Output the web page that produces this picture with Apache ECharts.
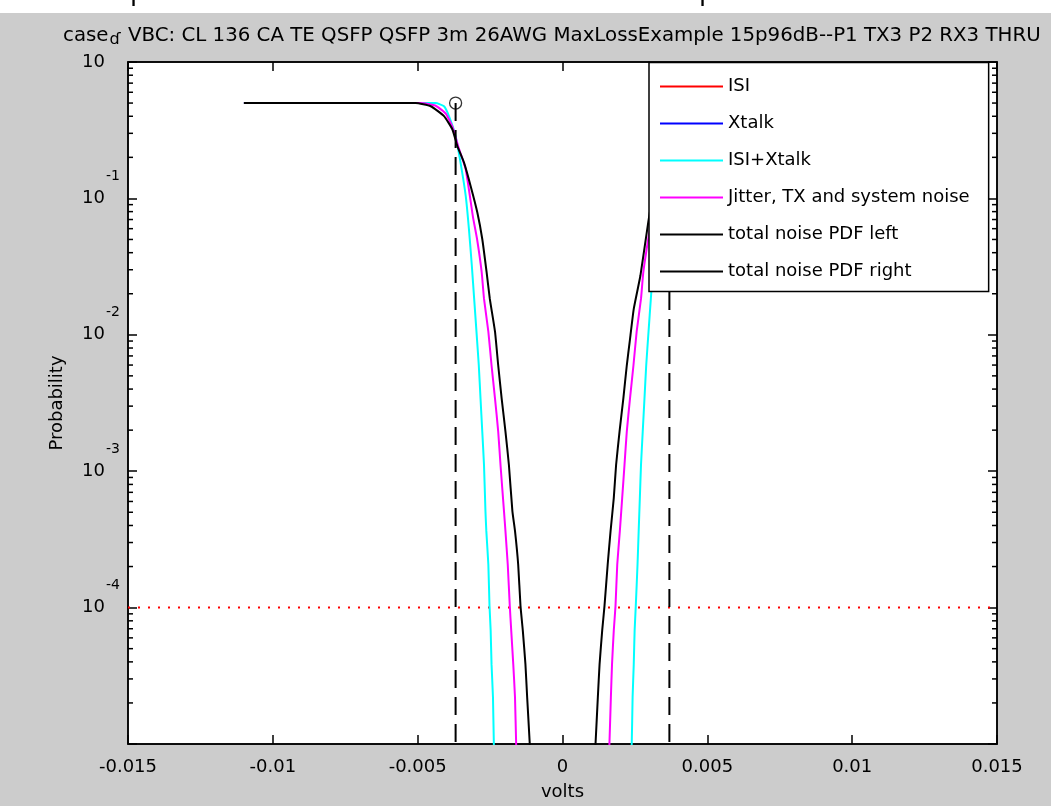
<!DOCTYPE html>
<html>
<head>
<meta charset="utf-8">
<script src="https://cdn.jsdelivr.net/npm/echarts@6/dist/echarts.min.js"></script>
<style>
html,body{margin:0;padding:0;background:#cccccc;}
#chart{width:1051px;height:806px;}
</style>
</head>
<body>
<div id="chart"></div>
<script>
// ---- data (volts, probability) ----
const seriesNames = ['ISI', 'Xtalk', 'ISI+Xtalk', 'Jitter, TX and system noise', 'total noise PDF left', 'total noise PDF right'];
const seriesColors = ['#ff0000', '#0000ff', '#00ffff', '#ff00ff', '#000000', '#000000'];

const isiData = [];     // not visible in the reference
const xtalkData = [];   // not visible in the reference

const isiXtalkLeft = [
  [-0.01100,0.5],[-0.00438,0.5],[-0.00409,0.474],[-0.00392,0.401],[-0.00369,0.286],[-0.00352,0.183],
  [-0.00334,0.104],[-0.00323,0.0596],[-0.00313,0.0321],[-0.00305,0.0184],[-0.00297,0.01054],[-0.00289,0.00598],
  [-0.00283,0.00341],[-0.00277,0.00196],[-0.00271,0.00111],[-0.00266,0.00051],[-0.00263,0.000365],
  [-0.00256,0.000207],[-0.00252,0.000103],[-0.00248,0.0000678],[-0.00245,0.0000385],[-0.00240,0.000022],
  [-0.00237,0.00001],[-0.00234,0.000007]
];
const isiXtalkRight = [
  [0.00234,0.000007],[0.00239,0.00001],[0.00242,0.000022],[0.00246,0.0000385],[0.00249,0.0000678],
  [0.00253,0.000103],[0.00259,0.000207],[0.00263,0.000365],[0.00267,0.000635],[0.00271,0.00111],
  [0.00277,0.00196],[0.00283,0.00341],[0.00289,0.00598],[0.00297,0.01054],[0.00305,0.0184],[0.00313,0.0321],
  [0.00323,0.0596],[0.00334,0.104],[0.00352,0.183],[0.00369,0.286],[0.00392,0.401],[0.00409,0.474],
  [0.00438,0.5],[0.01100,0.5]
];
const jitterLeft = [
  [-0.01100,0.5],[-0.00490,0.5],[-0.00438,0.478],[-0.00403,0.419],[-0.00379,0.331],[-0.00359,0.237],
  [-0.00334,0.163],[-0.00309,0.0729],[-0.00295,0.0504],[-0.00279,0.0288],[-0.00271,0.0184],[-0.00256,0.01054],
  [-0.00245,0.00598],[-0.00233,0.00341],[-0.00222,0.00196],[-0.00214,0.00111],[-0.00202,0.00051],
  [-0.00197,0.000365],[-0.00189,0.000207],[-0.00182,0.000103],[-0.00177,0.0000678],[-0.00170,0.0000385],
  [-0.00164,0.000022],[-0.00160,0.00001],[-0.00157,0.000007]
];
const jitterRight = [
  [0.00159,0.000007],[0.00162,0.00001],[0.00167,0.000022],[0.00171,0.0000385],[0.00177,0.0000678],
  [0.00183,0.000103],[0.00189,0.000207],[0.00198,0.000365],[0.00206,0.000635],[0.00214,0.00111],
  [0.00222,0.00196],[0.00233,0.00341],[0.00245,0.00598],[0.00256,0.01054],[0.00271,0.0184],[0.00279,0.0288],
  [0.00296,0.0504],[0.00309,0.0729],[0.00334,0.163],[0.00359,0.237],[0.00379,0.331],[0.00403,0.419],
  [0.00438,0.478],[0.00490,0.5],[0.01100,0.5]
];
const totalLeft = [
  [-0.01100,0.5],[-0.00507,0.5],[-0.00455,0.474],[-0.00409,0.401],[-0.00380,0.320],[-0.00363,0.242],
  [-0.00340,0.183],[-0.00317,0.123],[-0.00294,0.0789],[-0.00277,0.0504],[-0.00262,0.0288],[-0.00251,0.0184],
  [-0.00233,0.01054],[-0.00222,0.00598],[-0.00210,0.00341],[-0.00197,0.00196],[-0.00185,0.00111],
  [-0.00173,0.00051],[-0.00164,0.000365],[-0.00153,0.000207],[-0.00145,0.000103],[-0.00137,0.0000678],
  [-0.00128,0.0000385],[-0.00122,0.000022],[-0.00113,0.00001],[-0.00110,0.000007]
];
const totalRight = [
  [0.00110,0.000007],[0.00114,0.00001],[0.00122,0.000022],[0.00128,0.0000385],[0.00137,0.0000678],
  [0.00145,0.000103],[0.00156,0.000207],[0.00166,0.000365],[0.00177,0.000635],[0.00185,0.00111],
  [0.00197,0.00196],[0.00210,0.00341],[0.00222,0.00598],[0.00232,0.0089],[0.00246,0.0155],[0.00269,0.0272],
  [0.00296,0.0667],[0.00317,0.123],[0.00340,0.183],[0.00363,0.242],[0.00380,0.320],[0.00409,0.401],
  [0.00455,0.474],[0.00507,0.5],[0.01100,0.5]
];
const eyeLeftX = -0.00369;
const eyeRightX = 0.00369;
const eyeTopP = 0.5;
const berTarget = 0.0001;

// ---- axes / tick labels ----
const xMin = -0.015, xMax = 0.015, xInterval = 0.005;
const xTickValues = [-0.015, -0.01, -0.005, 0, 0.005, 0.01, 0.015];
const xTickLabels = ['-0.015', '-0.01', '-0.005', '0', '0.005', '0.01', '0.015'];
const yMin = 0.00001, yMax = 1;
const yTickValues = [1, 0.1, 0.01, 0.001, 0.0001, 0.00001];
const yTickBase = ['10', '10', '10', '10', '10', ''];
const yTickSup = ['', '-1', '-2', '-3', '-4', ''];
const minorMantissas = [2, 3, 4, 5, 6, 7, 8, 9];
const minorDecades = [0.00001, 0.0001, 0.001, 0.01, 0.1];

const titleText = 'case{sub|ɗ} VBC: CL 136 CA TE QSFP QSFP 3m 26AWG MaxLossExample 15p96dB--P1 TX3 P2 RX3 THRU';
const xName = 'volts';
const yName = 'Probability';

const FONT = 'DejaVu Sans';
const minorTickData = [];
minorDecades.forEach(d => minorMantissas.forEach(m => minorTickData.push([0, m * d])));

function withGap(a, b) { return a.concat([['-', '-']], b); }

const chart = echarts.init(document.getElementById('chart'), null, {renderer: 'canvas'});

function lineSeries(name, data, color) {
  return {
    name: name, type: 'line', data: data, showSymbol: false, symbol: 'none',
    connectNulls: false, clip: true, smooth: 0.15,
    lineStyle: {color: color, width: 2}, itemStyle: {color: color},
    emphasis: {disabled: true}, silent: true, z: 2
  };
}

const axisLineStyle = {show: true, onZero: false, lineStyle: {color: '#000', width: 1.5}};
const axisTickStyle = {show: true, inside: true, length: 9, lineStyle: {color: '#000', width: 1.5}};

const option = {
  backgroundColor: '#cccccc',
  animation: false,
  title: {
    text: titleText,
    left: 63, top: 24, padding: 0,
    textStyle: {
      fontFamily: FONT, fontSize: 19.8, fontWeight: 'normal', color: '#000',
      rich: { sub: {fontFamily: FONT, fontSize: 16, color: '#000', padding: [8, 1, 0, 1], verticalAlign: 'top'} }
    }
  },
  graphic: [
    {type: 'rect', left: 0, top: 0, shape: {x: 0, y: 0, width: 1051, height: 13}, style: {fill: '#ffffff'}, silent: true, z: -1},
    {type: 'text', x: 130, y: 6, style: {text: 'p', font: '26px "DejaVu Sans"', fill: '#000', verticalAlign: 'bottom'}, silent: true, z: 1},
    {type: 'text', x: 699, y: 6, style: {text: 'p', font: '26px "DejaVu Sans"', fill: '#000', verticalAlign: 'bottom'}, silent: true, z: 1}
  ],
  grid: {left: 128, right: 54, top: 62, bottom: 60, show: true, backgroundColor: '#ffffff', borderColor: '#000', borderWidth: 1.5},
  legend: {
    data: seriesNames, orient: 'vertical', left: 649, top: 62.5, z: 10,
    padding: [15, 19, 11, 11], itemGap: 19, itemWidth: 63, itemHeight: 2, icon: 'rect',
    backgroundColor: '#ffffff', borderColor: '#000', borderWidth: 1.5, borderRadius: 0,
    textStyle: {fontFamily: FONT, fontSize: 18, color: '#000'},
    selectedMode: false
  },
  xAxis: [
    {
      type: 'value', min: xMin, max: xMax, interval: xInterval, position: 'bottom',
      name: xName, nameLocation: 'middle', nameGap: 39,
      nameTextStyle: {fontFamily: FONT, fontSize: 18, color: '#000'},
      axisLine: axisLineStyle, axisTick: axisTickStyle,
      axisLabel: {
        margin: 14, fontFamily: FONT, fontSize: 18, color: '#000',
        formatter: v => { const i = xTickValues.findIndex(t => Math.abs(t - v) < 1e-9); return i >= 0 ? xTickLabels[i] : ''; }
      },
      splitLine: {show: false}
    },
    {
      type: 'value', min: xMin, max: xMax, interval: xInterval, position: 'top',
      axisLine: axisLineStyle, axisTick: axisTickStyle,
      axisLabel: {show: false}, splitLine: {show: false}
    }
  ],
  yAxis: [
    {
      type: 'log', logBase: 10, min: yMin, max: yMax, position: 'left',
      name: yName, nameLocation: 'middle', nameGap: 62,
      nameTextStyle: {fontFamily: FONT, fontSize: 18, color: '#000'},
      axisLine: axisLineStyle, axisTick: axisTickStyle,
      axisLabel: {
        margin: 8, fontFamily: FONT, fontSize: 18, color: '#000', align: 'right',
        formatter: v => {
          const i = yTickValues.findIndex(t => Math.abs(Math.log10(t) - Math.log10(v)) < 1e-6);
          if (i < 0 || !yTickBase[i]) return '';
          return '{s|' + (yTickSup[i] || ' ') + '}\n{b|' + yTickBase[i] + '}\n{e| }';
        },
        rich: {
          s: {fontFamily: FONT, fontSize: 14, color: '#000', lineHeight: 22, height: 22},
          b: {fontFamily: FONT, fontSize: 18, color: '#000', lineHeight: 22, height: 22, padding: [0, 15, 0, 0]},
          e: {fontFamily: FONT, fontSize: 14, lineHeight: 22, height: 22}
        }
      },
      splitLine: {show: false}
    },
    {
      type: 'log', logBase: 10, min: yMin, max: yMax, position: 'right',
      axisLine: axisLineStyle, axisTick: axisTickStyle,
      axisLabel: {show: false}, splitLine: {show: false}
    }
  ],
  series: [
    lineSeries(seriesNames[0], isiData, seriesColors[0]),
    lineSeries(seriesNames[1], xtalkData, seriesColors[1]),
    lineSeries(seriesNames[2], withGap(isiXtalkLeft, isiXtalkRight), seriesColors[2]),
    lineSeries(seriesNames[3], withGap(jitterLeft, jitterRight), seriesColors[3]),
    lineSeries(seriesNames[4], totalLeft, seriesColors[4]),
    lineSeries(seriesNames[5], totalRight, seriesColors[5]),
    {
      name: 'eyeLeft', type: 'line', data: [[eyeLeftX, eyeTopP], [eyeLeftX, yMin]], showSymbol: false, symbol: 'none',
      lineStyle: {color: '#000', width: 2, type: [18, 9]}, silent: true, z: 3
    },
    {
      name: 'eyeRight', type: 'line', data: [[eyeRightX, eyeTopP], [eyeRightX, yMin]], showSymbol: false, symbol: 'none',
      lineStyle: {color: '#000', width: 2, type: [18, 9]}, silent: true, z: 3
    },
    {
      name: 'eyeMarker', type: 'scatter', data: [[eyeLeftX, eyeTopP], [eyeRightX, eyeTopP]], symbol: 'circle', symbolSize: 12,
      itemStyle: {color: 'rgba(0,0,0,0)', borderColor: '#000', borderWidth: 1.3}, silent: true, z: 3
    },
    {
      name: 'berTarget', type: 'line', data: [[xMin, berTarget], [xMax, berTarget]], showSymbol: false, symbol: 'none',
      lineStyle: {color: '#ff0000', width: 2, type: [2, 8]}, silent: true, z: 1
    },
    {
      name: 'minorTicks', type: 'custom', data: minorTickData, silent: true, z: 3, clip: false,
      renderItem: function (params, api) {
        const cs = params.coordSys;
        const y = api.coord([0, api.value(1)])[1];
        const st = {stroke: '#000', lineWidth: 1.5};
        return {type: 'group', children: [
          {type: 'line', shape: {x1: cs.x, y1: y, x2: cs.x + 5, y2: y}, style: st},
          {type: 'line', shape: {x1: cs.x + cs.width - 5, y1: y, x2: cs.x + cs.width, y2: y}, style: st}
        ]};
      }
    }
  ]
};
chart.setOption(option);
</script>
</body>
</html>
